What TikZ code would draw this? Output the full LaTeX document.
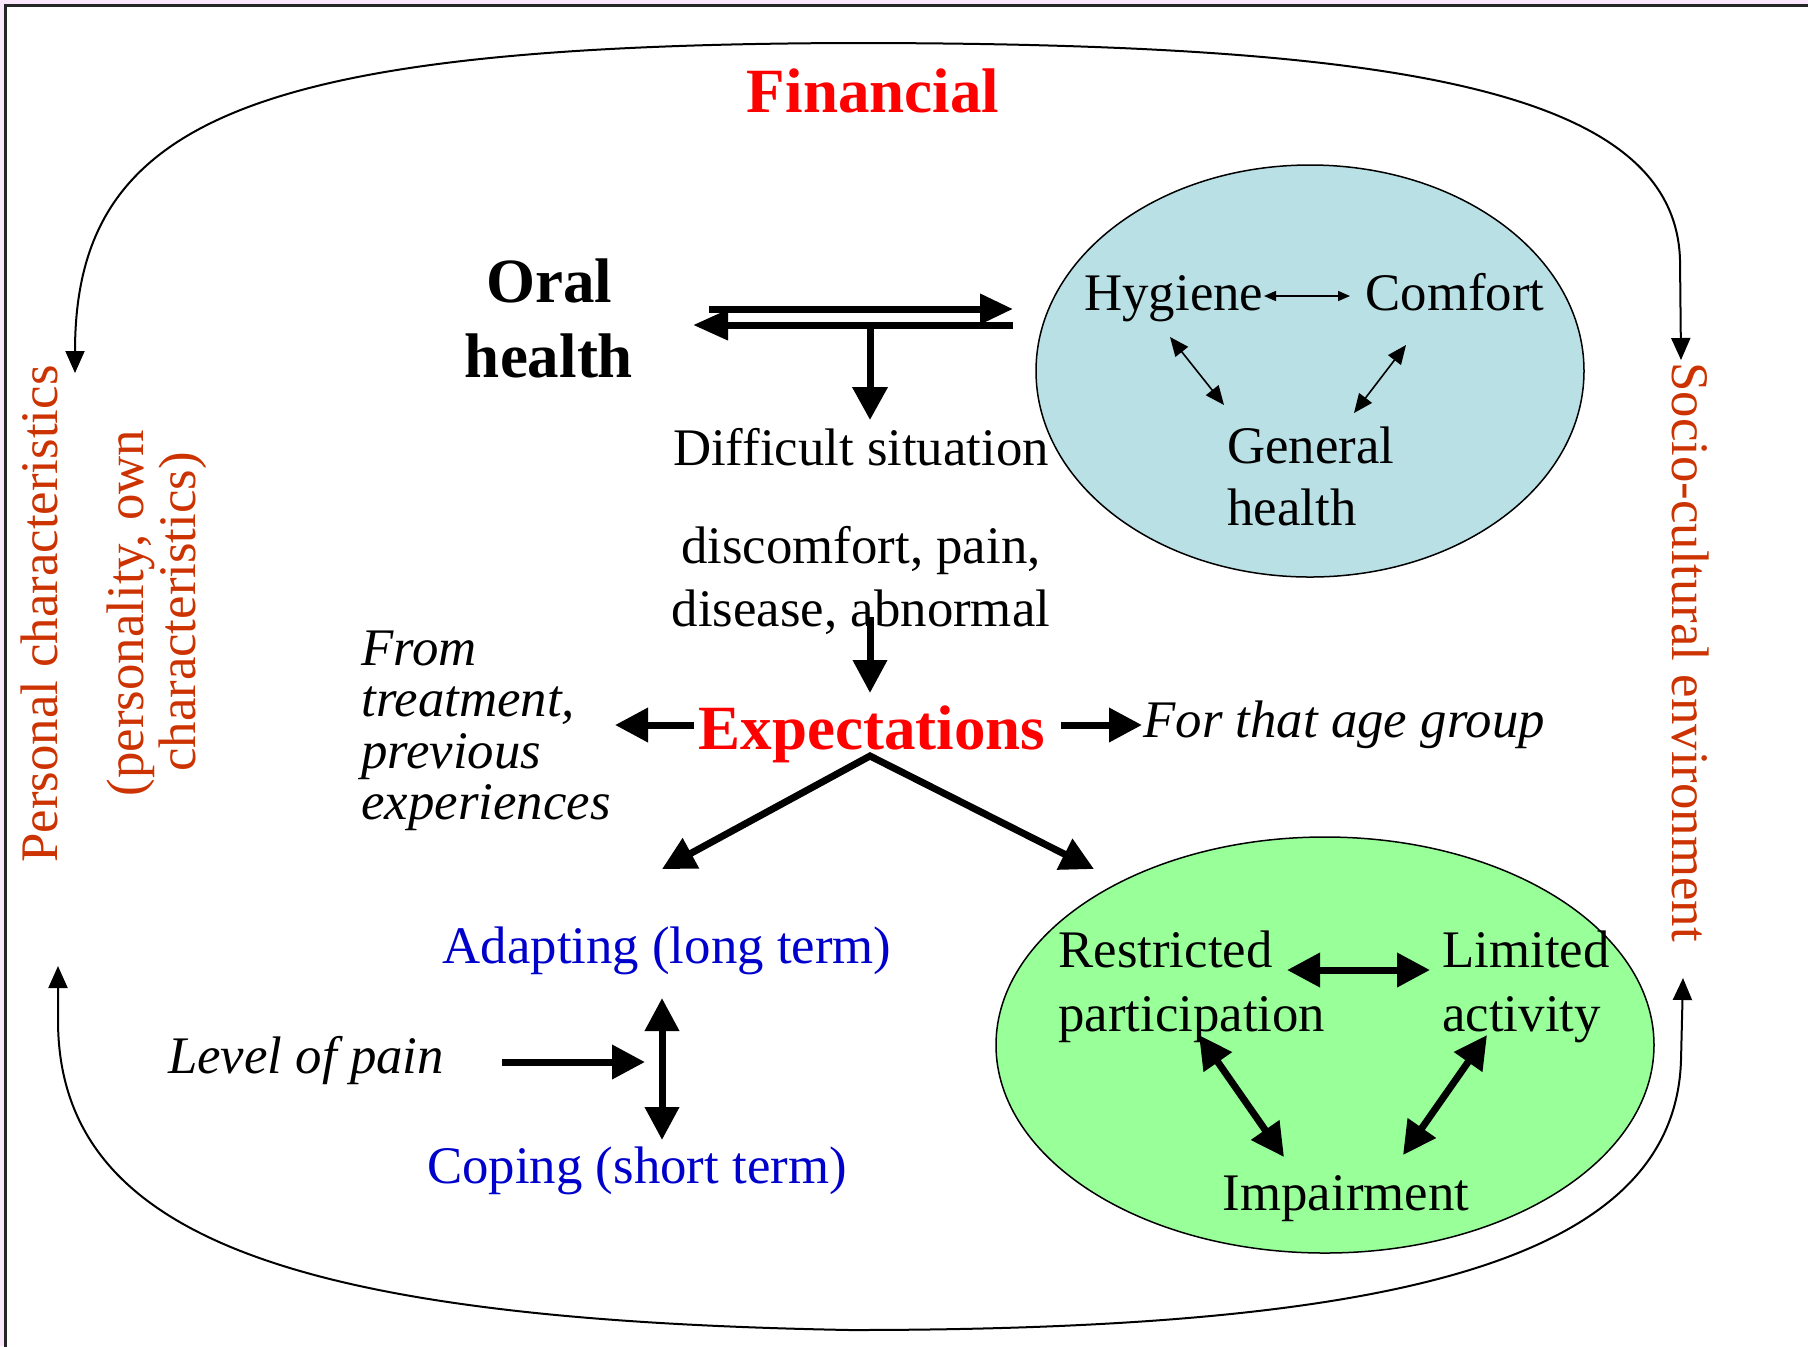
\documentclass[tikz,border=0pt]{standalone}
\usepackage{fontspec}
\setmainfont{Liberation Serif}
\usetikzlibrary{arrows.meta,shapes.geometric}
\definecolor{finred}{RGB}{255,0,0}
\definecolor{sideorange}{RGB}{204,51,0}
\definecolor{adblue}{RGB}{0,0,204}
\definecolor{ellblue}{RGB}{185,224,228}
\definecolor{ellgreen}{RGB}{153,255,153}
\definecolor{bgpink}{RGB}{252,232,252}
\tikzset{
  rmtext/.style={font=\fontsize{26.4}{32}\selectfont, inner sep=0pt, anchor=base},
  ittext/.style={font=\fontsize{26.4}{32}\selectfont\itshape, inner sep=0pt, anchor=base},
  bdtext/.style={font=\fontsize{31.5}{38}\selectfont\bfseries, inner sep=0pt, anchor=base},
  bigarrow/.style={line width=3.5pt, -{Triangle[length=16.5pt,width=16.5pt]}},
  bigdbl/.style={line width=3.5pt, {Triangle[length=16.5pt,width=16.5pt]}-{Triangle[length=16.5pt,width=16.5pt]}},
  smalldbl/.style={line width=0.75pt, {Triangle[length=6pt,width=5pt]}-{Triangle[length=6pt,width=5pt]}},
  diagdbl/.style={line width=0.8pt, {Triangle[length=9.5pt,width=8pt]}-{Triangle[length=9.5pt,width=8pt]}},
  looparrow/.style={line width=1pt, {Triangle[length=11pt,width=9.5pt]}-{Triangle[length=11pt,width=9.5pt]}},
  ellbox/.style={ellipse, draw=black, line width=0.75pt, inner sep=0pt},
}
\begin{document}
\begin{tikzpicture}[x=0.5pt,y=-0.5pt]
\useasboundingbox (0,0) rectangle (1808,1346);
\fill[bgpink] (0,0) rectangle (1808,1346);
\draw[line width=1.5pt, draw=black!85, fill=white] (5,5) rectangle (1830,1370);

% ellipses
\node[ellbox, fill=ellblue, minimum width=274pt, minimum height=206pt] (blueell) at (1310,371) {};
\node[ellbox, fill=ellgreen, minimum width=329pt, minimum height=208pt] (greenell) at (1325,1045) {};

% titles
\node[bdtext, text=finred] (fin) at (873,112) {Financial};
\node[bdtext] (oral1) at (549,302) {Oral};
\node[bdtext] (oral2) at (549,377) {health};
\node[rmtext] (diff) at (861,465) {Difficult situation};
\node[rmtext] (disc1) at (861,563) {discomfort, pain,};
\node[rmtext] (disc2) at (861,626) {disease, abnormal};
\node[bdtext, text=finred] (expect) at (872,749) {Expectations};
\node[ittext, anchor=base west] (age) at (1143,737) {For that age group};
\node[ittext, anchor=base west] (from1) at (361,665) {From};
\node[ittext, anchor=base west] (from2) at (361,716) {treatment,};
\node[ittext, anchor=base west] (from3) at (361,768) {previous};
\node[ittext, anchor=base west] (from4) at (361,819) {experiences};
\node[rmtext, text=adblue] (adapt) at (667,963) {Adapting (long term)};
\node[rmtext, text=adblue] (coping) at (637,1183) {Coping (short term)};
\node[ittext] (pain) at (306,1073) {Level of pain};

% blue ellipse content
\node[rmtext, anchor=base west] (hyg) at (1084,310) {Hygiene};
\node[rmtext, anchor=base west] (comf) at (1365,310) {Comfort};
\node[rmtext, anchor=base west] (gen1) at (1227,463) {General};
\node[rmtext, anchor=base west] (gen2) at (1227,525) {health};

% green ellipse content
\node[rmtext, anchor=base west] (restr1) at (1058,967) {Restricted};
\node[rmtext, anchor=base west] (restr2) at (1058,1031) {participation};
\node[rmtext, anchor=base west] (lim1) at (1442,967) {Limited};
\node[rmtext, anchor=base west] (lim2) at (1442,1031) {activity};
\node[rmtext] (imp) at (1346,1210) {Impairment};

% side texts
\node[rmtext, text=sideorange, rotate=90] (pers) at (57,614) {Personal characteristics};
\node[rmtext, text=sideorange, rotate=90] (persb1) at (143,613) {(personality, own};
\node[rmtext, text=sideorange, rotate=90] (persb2) at (195,612) {characteristics)};
\node[rmtext, text=sideorange, rotate=-90] (socio) at (1672,652) {Socio-cultural environment};

% oral health double arrow
\coordinate (dA1) at (709,309); \coordinate (dA2) at (1013,309);
\coordinate (dB1) at (1013,325); \coordinate (dB2) at (693,325);
\coordinate (dC1) at (870,325); \coordinate (dC2) at (870,420);
\draw[line width=3.5pt, -{Triangle[length=16.5pt,width=14.5pt]}] (dA1) -- (dA2);
\draw[line width=3.5pt, -{Triangle[length=17.5pt,width=14.5pt]}] (dB1) -- (dB2);
\draw[line width=3.5pt, -{Triangle[length=16.5pt,width=17pt]}] (dC1) -- (dC2);

% to expectations
\coordinate (eIn1) at (870,617); \coordinate (eIn2) at (870,693);
\draw[bigarrow] (eIn1) -- (eIn2);
\coordinate (eL1) at (694,725); \coordinate (eL2) at (615,725);
\draw[bigarrow] (eL1) -- (eL2);
\coordinate (eR1) at (1061,725); \coordinate (eR2) at (1142,725);
\draw[bigarrow] (eR1) -- (eR2);
\coordinate (apex) at (870,756);
\coordinate (vL) at (662,869); \coordinate (vR) at (1094,869);
\draw[bigdbl] (vL) -- (apex) -- (vR);

% level of pain
\coordinate (lp1) at (502,1062); \coordinate (lp2) at (645,1062);
\draw[bigarrow] (lp1) -- (lp2);
\coordinate (ac1) at (662,998); \coordinate (ac2) at (662,1140);
\draw[bigdbl] (ac1) -- (ac2);

% blue ellipse arrows
\coordinate (hc1) at (1264,296); \coordinate (hc2) at (1350,296);
\draw[smalldbl] (hc1) -- (hc2);
\coordinate (hg1) at (1170,337); \coordinate (hg2) at (1224,405);
\draw[diagdbl] (hg1) -- (hg2);
\coordinate (cg1) at (1406,345); \coordinate (cg2) at (1354,413);
\draw[diagdbl] (cg1) -- (cg2);

% green ellipse arrows
\coordinate (rl1) at (1287,970); \coordinate (rl2) at (1430,970);
\draw[bigdbl] (rl1) -- (rl2);
\coordinate (pi1) at (1199,1035); \coordinate (pi2) at (1284,1157);
\draw[bigdbl] (pi1) -- (pi2);
\coordinate (ai1) at (1487,1035); \coordinate (ai2) at (1403,1155);
\draw[bigdbl] (ai1) -- (ai2);

% loops
\coordinate (loopTL) at (75,373); \coordinate (loopTR) at (1681,360);
\coordinate (loopBL) at (58,966); \coordinate (loopBR) at (1683,978);
\draw[looparrow] (loopTL) .. controls (75,120) and (250,45) .. (850,43)
   .. controls (1400,43) and (1675,90) .. (1680,260) -- (loopTR);
\draw[looparrow] (loopBL) -- (58,1020) .. controls (58,1240) and (300,1320) .. (850,1330)
   .. controls (1400,1330) and (1675,1260) .. (1681,1060) -- (loopBR);
\end{tikzpicture}
\end{document}
